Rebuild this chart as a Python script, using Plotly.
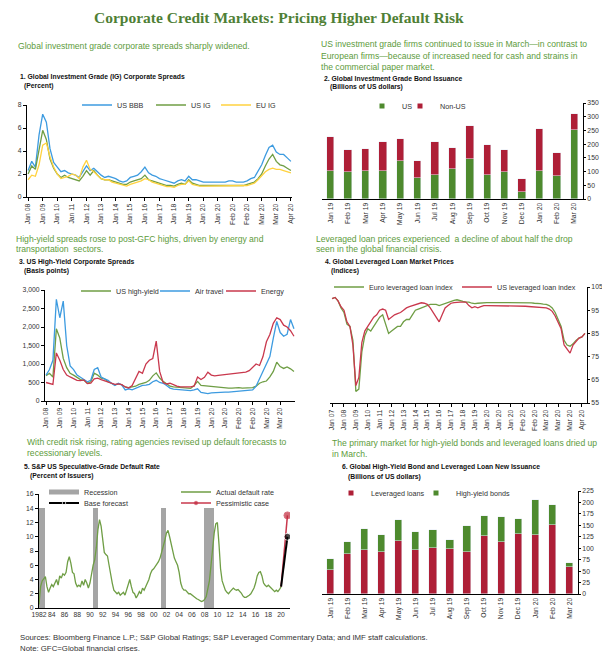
import plotly.graph_objects as go

# the page body has an 8px margin, so the figure is sized to the window minus that offset
W, H = 602, 660
OFF = 8
FONT = "Liberation Sans, Arial, sans-serif"

# ---------------- data ----------------
# 1. Global IG corporate spreads (percent)
ig_ticks = ["Jan 08", "Jan 09", "Jan 10", "Jan 11", "Jan 12", "Jan 13", "Jan 14", "Jan 15",
            "Jan 16", "Jan 17", "Jan 18", "Jan 19", "Jan 20", "Jan 20", "Feb 20", "Feb 20",
            "Mar 20", "Mar 20", "Apr 20"]
us_bbb = [2.3, 3.1, 2.6, 5.4, 7.2, 6.5, 4.2, 3.0, 2.6, 2.2,
          2.3, 2.1, 2.0, 1.9, 1.7, 2.2, 2.7, 2.3, 2.5, 2.2,
          1.9, 1.7, 1.8, 1.7, 1.6, 1.4, 1.3, 1.4, 1.7, 1.8,
          1.9, 2.2, 2.6, 2.1, 1.9, 1.8, 1.6, 1.5, 1.4, 1.3,
          1.2, 1.4, 1.5, 1.4, 1.8, 1.5, 1.5, 1.4, 1.3, 1.3,
          1.3, 1.3, 1.3, 1.3, 1.3, 1.4, 1.4, 1.3, 1.3, 1.3,
          1.4, 1.6, 1.7, 2.2, 2.8, 3.6, 4.3, 4.5, 3.9, 3.7,
          3.7, 3.4, 3.1]
us_ig = [2.0, 2.7, 2.4, 4.2, 5.8, 5.0, 3.3, 2.5, 2.0, 1.7,
         1.9, 1.7, 1.6, 1.5, 1.4, 1.8, 2.3, 1.9, 2.3, 1.9,
         1.6, 1.5, 1.5, 1.4, 1.3, 1.2, 1.1, 1.1, 1.3, 1.4,
         1.5, 1.6, 1.9, 1.5, 1.4, 1.3, 1.2, 1.1, 1.0, 1.0,
         0.95, 1.1, 1.2, 1.1, 1.5, 1.2, 1.1, 1.0, 1.0, 1.0,
         1.0, 1.0, 1.0, 1.0, 1.0, 1.05, 1.05, 1.0, 1.0, 1.0,
         1.1, 1.2, 1.3, 1.6, 2.0, 2.7, 3.3, 3.7, 3.1, 2.8,
         2.7, 2.5, 2.3]
eu_ig = [1.5, 1.9, 1.8, 2.8, 4.5, 4.7, 3.5, 2.6, 2.0, 1.6,
         1.7, 1.8, 2.0, 1.9, 1.6, 2.6, 3.2, 2.4, 2.2, 1.9,
         1.6, 1.5, 1.5, 1.3, 1.2, 1.1, 1.0, 0.95, 1.1, 1.2,
         1.3, 1.4, 1.6, 1.5, 1.3, 1.2, 1.1, 1.0, 0.9, 0.9,
         0.85, 1.0, 1.1, 1.1, 1.4, 1.1, 1.0, 0.95, 0.95, 0.95,
         0.95, 0.95, 0.95, 0.95, 0.95, 0.95, 0.95, 0.95, 0.95, 0.95,
         1.0, 1.1, 1.2, 1.5, 1.9, 2.2, 2.4, 2.5, 2.4, 2.4,
         2.3, 2.2, 2.1]

# 2. Global IG bond issuance (billions of US dollars)
months = ["Jan 19", "Feb 19", "Mar 19", "Apr 19", "May 19", "Jun 19", "Jul 19", "Aug 19",
          "Sep 19", "Oct 19", "Nov 19", "Dec 19", "Jan 20", "Feb 20", "Mar 20"]
ig_us = [103, 97, 102, 102, 137, 78, 88, 110, 145, 87, 97, 27, 103, 85, 253]
ig_nonus = [122, 81, 80, 105, 83, 60, 121, 75, 122, 109, 81, 46, 154, 83, 57]

# 3. US high-yield corporate spreads (basis points)
hy_ticks = ["Jan 08", "Jan 09", "Jan 10", "Jan 11", "Jan 12", "Jan 13", "Jan 14", "Jan 15",
            "Jan 16", "Jan 17", "Jan 18", "Jan 19", "Jan 20", "Jan 20", "Feb 20", "Feb 20",
            "Mar 20", "Mar 20"]
hy_us = [680, 750, 650, 1950, 1700, 1150, 900, 750, 700, 650,
         580, 560, 480, 520, 750, 700, 620, 600, 520, 480,
         430, 470, 440, 380, 360, 380, 400, 450, 480, 500,
         560, 680, 760, 620, 530, 460, 400, 380, 370, 360,
         340, 330, 340, 420, 530, 420, 410, 400, 380, 370,
         360, 360, 360, 350, 350, 360, 360, 350, 350, 350,
         360, 400, 480, 520, 540, 650, 800, 1050, 930, 880,
         920, 870, 800]
hy_air = [700, 850, 1100, 2750, 2250, 2700, 1500, 950, 850, 700,
          640, 580, 520, 560, 850, 900, 650, 600, 560, 480,
          420, 480, 430, 300, 330, 300, 340, 380, 420, 430,
          450, 520, 560, 500, 480, 420, 350, 320, 310, 290,
          280, 270, 280, 300, 330, 230, 220, 200, 220, 230,
          230, 230, 240, 240, 250, 260, 260, 270, 280, 280,
          300, 400, 600, 800, 1000, 1200, 1700, 2150, 1850, 1750,
          1800, 2200, 1950]
hy_energy = [500, 480, 450, 1300, 1100, 850, 700, 650, 600, 560,
             550, 570, 470, 480, 600, 620, 580, 550, 520, 480,
             450, 460, 440, 380, 350, 420, 600, 800, 750, 1000,
             1100, 1150, 1620, 800, 500, 460, 480, 430, 400, 380,
             370, 380, 380, 400, 650, 580, 640, 780, 700, 680,
             690, 700, 710, 720, 740, 750, 750, 760, 780, 820,
             900, 1000, 960, 1200, 1600, 1800, 2100, 2250, 2200, 2050,
             2000, 1900, 1750]

# 4. Global leveraged loan market prices (indices)
ll_ticks = ["Jan 07", "Jan 08", "Jan 09", "Jan 10", "Jan 11", "Jan 12", "Jan 13", "Jan 14",
            "Jan 15", "Jan 16", "Jan 17", "Jan 18", "Jan 19", "Jan 20", "Jan 20", "Jan 20",
            "Feb 20", "Feb 20", "Mar 20", "Mar 20", "Mar 20", "Apr 20"]
euro_ll = [100, 100.5, 99, 96, 94, 89, 88, 82, 60, 61,
           77, 84, 87, 86, 88, 90, 92, 93, 89, 85,
           86, 87, 88, 88, 90, 91, 91, 93, 95, 95.5,
           96, 96.5, 97, 97.5, 97.5, 97.5, 97, 97.5, 98, 98.5,
           99, 99.2, 99.5, 99, 98.8, 98.5, 98.5, 98, 97.8, 98,
           98.2, 98.2, 98.3, 98.3, 98.3, 98.4, 98.4, 98.4, 98.4, 98.4,
           98.4, 98.4, 98.3, 98.3, 98.3, 98.3, 98.2, 98.2, 98, 98,
           97.8, 97.6, 97.5, 97, 96, 94, 91, 88, 82, 80,
           79.5, 80.5, 82, 83, 83.5, 85]
us_ll = [100, 100.5, 99, 96.5, 95, 90, 88, 80, 62.5, 66,
         81, 86, 88, 90, 92, 93, 95, 95.5, 95, 91,
         92, 93, 93.5, 94, 95, 96, 96.5, 97, 97.5, 98,
         98.2, 98, 97.5, 96, 94, 92, 90, 93, 96, 97,
         98, 98.3, 98.5, 98.5, 98.5, 98.5, 97, 96, 96.5, 96,
         96.5, 97, 97, 97, 97, 97, 97, 97, 97, 96.9,
         96.9, 96.8, 96.8, 96.8, 96.7, 96.7, 96.6, 96.5, 96.5, 96.4,
         96.3, 96.2, 96, 95.5, 94.5, 92.5, 90, 87, 80, 78.5,
         76.5, 80, 81.5, 83, 83.5, 85]

# 5. S&P US speculative-grade default rate (percent of issuers), quarterly from 1982
default_start = 1982
default_rate = [0.5, 3.0, 3.8, 4.2, 4.4, 3.0, 2.2, 2.8, 3.3, 3.0, 3.5, 4.0,
                3.2, 4.5, 4.2, 4.8, 4.6, 5.0, 6.5, 7.2, 6.3, 5.0, 4.8, 3.5,
                3.0, 3.2, 3.0, 3.8, 3.2, 4.0, 3.5, 2.8, 3.5, 5.0, 6.0, 6.8,
                8.5, 11.0, 12.4, 11.5, 9.5, 7.8, 7.5, 7.3, 6.0, 4.5, 3.5, 2.5,
                2.2, 2.0, 2.2, 1.8, 2.0, 2.2, 1.8, 2.5, 3.2, 4.0, 3.0, 2.2,
                2.0, 1.4, 1.8, 2.3, 2.0, 2.8, 2.5, 3.0, 3.5, 4.0, 4.8, 5.3,
                5.5, 5.8, 6.2, 6.5, 7.0, 7.8, 8.5, 9.5, 10.5, 10.9, 10.0, 9.0,
                8.0, 7.0, 6.5, 6.0, 5.0, 3.5, 2.8, 2.5, 2.5, 2.3, 2.0, 2.0,
                1.8, 1.7, 1.5, 1.3, 1.2, 1.0, 0.9, 1.0, 1.2, 1.6, 2.5, 3.8,
                6.0, 8.5, 10.5, 11.8, 12.0, 9.0, 5.5, 3.8, 3.0, 2.5, 2.2, 2.0,
                2.3, 2.6, 2.8, 2.6, 2.5, 2.6, 2.4, 2.1, 1.7, 1.5, 1.5, 1.6,
                1.8, 2.0, 2.4, 2.8, 3.5, 4.5, 5.0, 5.1, 4.5, 3.5, 3.2, 3.0,
                3.2, 3.0, 2.8, 2.5, 2.3, 2.5, 2.3, 2.6, 3.0]
forecast_years = [2020.0, 2021.0]
base_forecast = [3.0, 10.0]
pessimistic_case = [3.0, 13.0]
recession_start = [1981.5, 1990.5, 2001.17, 2007.92]
recession_end = [1982.92, 1991.25, 2001.92, 2009.5]
recession_top = 14
year_ticks = list(range(1982, 2021, 2))
year_labels = ["1982"] + [str(y)[2:] for y in year_ticks[1:]]

# 6. Global HY bond and leveraged loan new issuance (billions of US dollars)
lev_loans = [53, 87, 96, 92, 116, 96, 101, 98, 92, 127, 113, 131, 129, 150, 60]
hy_bonds = [23, 27, 47, 36, 45, 40, 39, 20, 56, 44, 55, 33, 76, 45, 7]

# ---------------- styling ----------------
BLUE = "#3d9be0"
GREEN = "#6f9e45"
YELLOW = "#ffd23f"
RED = "#c9384d"
BAR_GREEN = "#4e8a2e"
BAR_RED = "#ae1f37"
GRAY = "#a5a5a5"
TXT_GREEN = "#5d9b3c"
TITLE_GREEN = "#4f7f36"
BLK = "#111"


# positions below are window pixels; convert to paper fractions
def px_x(x):
    return (x - OFF) / W


def px_y(y):
    return 1 - (y - OFF) / H


fig = go.Figure()


def line(x, y, name, color, ax, leg, width=1.3):
    fig.add_trace(go.Scatter(x=x, y=y, name=name, mode="lines",
                             line=dict(color=color, width=width),
                             xaxis="x" + ax, yaxis="y" + ax, legend=leg))


def legend_square(name, color, ax, leg):
    fig.add_trace(go.Scatter(x=[None], y=[None], name=name, mode="markers",
                             marker=dict(symbol="square", size=5, color=color),
                             xaxis="x" + ax, yaxis="y" + ax, legend=leg, legendgroup=name))


# panel 1
idx1 = list(range(len(us_bbb)))
line(idx1, us_bbb, "US BBB", BLUE, "", "legend")
line(idx1, us_ig, "US IG", GREEN, "", "legend2")
line(idx1, eu_ig, "EU IG", YELLOW, "", "legend3")

# panel 2
fig.add_trace(go.Bar(x=months, y=ig_us, name="US", marker_color=BAR_GREEN, width=0.42,
                     xaxis="x2", yaxis="y2", showlegend=False, legendgroup="US"))
fig.add_trace(go.Bar(x=months, y=ig_nonus, name="Non-US", marker_color=BAR_RED, width=0.42,
                     xaxis="x2", yaxis="y2", showlegend=False, legendgroup="Non-US"))
legend_square("US", BAR_GREEN, "2", "legend4")
legend_square("Non-US", BAR_RED, "2", "legend5")

# panel 3
idx3 = list(range(len(hy_us)))
line(idx3, hy_us, "US high-yield", GREEN, "3", "legend6")
line(idx3, hy_air, "Air travel", BLUE, "3", "legend7")
line(idx3, hy_energy, "Energy", RED, "3", "legend8")

# panel 4
idx4 = list(range(len(euro_ll)))
line(idx4, euro_ll, "Euro leveraged loan index", GREEN, "4", "legend9")
line(idx4, us_ll, "US leveraged loan index", RED, "4", "legend10")

# panel 5
rec_mid = [(s + e) / 2 for s, e in zip(recession_start, recession_end)]
rec_w = [e - s for s, e in zip(recession_start, recession_end)]
fig.add_trace(go.Bar(x=rec_mid, y=[recession_top] * len(rec_mid), width=rec_w,
                     marker_color=GRAY, marker_line_width=0, xaxis="x5", yaxis="y5",
                     showlegend=False, name="Recession", legendgroup="rec"))
fig.add_trace(go.Scatter(x=[None], y=[None], mode="lines", name="Recession",
                         line=dict(color=GRAY, width=5), xaxis="x5", yaxis="y5",
                         legend="legend11", legendgroup="rec"))
years = [default_start + 0.25 * i for i in range(len(default_rate))]
line(years, default_rate, "Actual default rate", GREEN, "5", "legend13")
fig.add_trace(go.Scatter(x=forecast_years, y=pessimistic_case, name="Pessimistic case",
                         mode="lines+markers", line=dict(color=RED, width=1.5),
                         marker=dict(size=[0, 7], color="#c0283a"),
                         xaxis="x5", yaxis="y5", legend="legend14"))
fig.add_trace(go.Scatter(x=forecast_years, y=base_forecast, name="Base forecast",
                         mode="lines+markers", line=dict(color="black", width=2),
                         marker=dict(size=[0, 7], color="black"),
                         xaxis="x5", yaxis="y5", legend="legend12"))

# panel 6
fig.add_trace(go.Bar(x=months, y=lev_loans, name="Leveraged loans", marker_color=BAR_RED,
                     width=0.42, xaxis="x6", yaxis="y6", showlegend=False,
                     legendgroup="Leveraged loans"))
fig.add_trace(go.Bar(x=months, y=hy_bonds, name="High-yield bonds", marker_color=BAR_GREEN,
                     width=0.42, xaxis="x6", yaxis="y6", showlegend=False,
                     legendgroup="High-yield bonds"))
legend_square("Leveraged loans", BAR_RED, "6", "legend15")
legend_square("High-yield bonds", BAR_GREEN, "6", "legend16")

# ---------------- axes ----------------
tick_font = dict(size=6.8, color="#333", family=FONT)
base_ax = dict(showgrid=False, zeroline=False, showline=True, linecolor="black",
               linewidth=1, tickfont=tick_font, ticks="outside", ticklen=3,
               tickcolor="black", fixedrange=True)


def xax(x0, x1, anchor, **kw):
    d = dict(base_ax, domain=[px_x(x0), px_x(x1)], anchor=anchor)
    d.update(kw)
    return d


def yax(top, bottom, anchor, **kw):
    d = dict(base_ax, domain=[px_y(bottom), px_y(top)], anchor=anchor)
    d.update(kw)
    return d


layout_axes = dict(
    xaxis=xax(27, 292, "y", range=[-0.3, 72.3], tickmode="array",
              tickvals=list(range(0, 73, 4)), ticktext=ig_ticks, tickangle=-90),
    yaxis=yax(105, 197, "x", range=[0, 8], dtick=2),
    xaxis2=xax(322, 583, "y2", type="category", range=[-0.5, 14.5], tickangle=-90, ticks=""),
    yaxis2=yax(103, 199, "x2", side="right", range=[0, 350], dtick=50, ticklen=2),
    xaxis3=xax(45, 295, "y3", range=[-0.3, 72.3], tickmode="array",
               tickvals=list(range(0, 69, 4)), ticktext=hy_ticks, tickangle=-90),
    yaxis3=yax(290, 401, "x3", range=[0, 3000], dtick=500, tickformat=","),
    xaxis4=xax(330, 587, "y4", range=[-0.7, 85.7], tickmode="array",
               tickvals=list(range(0, 85, 4)), ticktext=ll_ticks, tickangle=-90),
    yaxis4=yax(287, 403, "x4", side="right", range=[55, 105], tickmode="array",
               tickvals=[55, 65, 75, 85, 95, 105], ticklen=2),
    xaxis5=xax(39, 290, "y5", range=[1982, 2021.4], tickmode="array",
               tickvals=year_ticks, ticktext=year_labels, tickangle=0, ticks=""),
    yaxis5=yax(494, 608, "x5", range=[0, 16], dtick=2),
    xaxis6=xax(322, 578, "y6", type="category", range=[-0.5, 14.5], tickangle=-90, ticks=""),
    yaxis6=yax(491, 594, "x6", side="right", range=[0, 225], dtick=25, ticklen=2),
)


# ---------------- legends (one entry each, placed by hand) ----------------
def leg(x, y):
    return dict(x=px_x(x), y=px_y(y), xref="paper", yref="paper", xanchor="left",
                yanchor="middle", orientation="h", bgcolor="rgba(0,0,0,0)", borderwidth=0,
                itemwidth=30, font=dict(size=7.2, color="#333", family=FONT))


legends = dict(
    legend=leg(77, 105), legend2=leg(151, 105), legend3=leg(216, 105),
    legend4=leg(362, 106), legend5=leg(400, 106),
    legend6=leg(76, 291), legend7=leg(155, 291), legend8=leg(221, 291),
    legend9=leg(329, 287), legend10=leg(457, 287),
    legend11=leg(44, 492), legend12=leg(44, 503), legend13=leg(176, 492), legend14=leg(176, 503),
    legend15=leg(331, 493), legend16=leg(416, 493),
)


# ---------------- text ----------------
def note(x, y, text, size=8.6, color=TXT_GREEN, bold=False, family=FONT):
    if bold:
        text = "<b>" + text + "</b>"
    return dict(x=px_x(x), y=px_y(y), xref="paper", yref="paper", xanchor="left",
                yanchor="middle", text=text, showarrow=False,
                font=dict(size=size, color=color, family=family))


annotations = [
    dict(x=px_x(279), y=px_y(17), xref="paper", yref="paper", xanchor="center",
         yanchor="middle", showarrow=False,
         text="<b>Corporate Credit Markets: Pricing Higher Default Risk</b>",
         font=dict(size=15.5, color=TITLE_GREEN, family="Liberation Serif, Times New Roman, serif")),
    note(16, 46, "Global investment grade corporate spreads sharply widened."),
    note(319, 44, "US investment grade firms continued to issue in March\u2014in contrast to"),
    note(319, 56, "European firms\u2014because of increased need for cash and strains in"),
    note(319, 67, "the commercial paper market."),
    note(18, 77, "1. Global Investment Grade (IG) Corporate Spreads", 6.8, BLK, True),
    note(22, 86, "(Percent)", 6.8, BLK, True),
    note(322, 78, "2. Global Investment Grade Bond Issuance", 6.8, BLK, True),
    note(328, 87, "(Billions of US dollars)", 6.8, BLK, True),
    note(14, 239, "High-yield spreads rose to post-GFC highs, driven by energy and"),
    note(14, 249, "transportation  sectors."),
    note(17, 262, "3. US High-Yield Corporate Spreads", 6.8, BLK, True),
    note(22, 271, "(Basis points)", 6.8, BLK, True),
    note(314, 239, "Leveraged loan prices experienced  a decline of about half the drop"),
    note(314, 249, "seen in the global financial crisis."),
    note(323, 262, "4. Global Leveraged Loan Market Prices", 6.8, BLK, True),
    note(329, 271, "(Indices)", 6.8, BLK, True),
    note(25, 442, "With credit risk rising, rating agencies revised up default forecasts to"),
    note(25, 453, "recessionary levels."),
    note(22, 467, "5. S&P US Speculative-Grade Default Rate", 6.8, BLK, True),
    note(28, 476, "(Percent of Issuers)", 6.8, BLK, True),
    note(330, 443, "The primary market for high-yield bonds and leveraged loans dried up"),
    note(330, 454, "in March."),
    note(340, 467, "6. Global High-Yield Bond and Leveraged Loan New Issuance", 6.8, BLK, True),
    note(346, 477, "(Billions of US dollars)", 6.8, BLK, True),
    note(18, 637, "Sources: Bloomberg Finance L.P.; S&P Global Ratings; S&P Leveraged Commentary Data; and IMF staff calculations.", 7.8, "#333"),
    note(18, 648, "Note: GFC=Global financial crises.", 7.8, "#333"),
]

shapes = [
    dict(type="line", xref="paper", yref="paper", x0=px_x(5), x1=px_x(5), y0=px_y(3), y1=0,
         line=dict(color="#6b6b6b", width=3)),
    dict(type="line", xref="paper", yref="paper", x0=px_x(5), x1=px_x(606), y0=px_y(4), y1=px_y(4),
         line=dict(color="#8a8a8a", width=2)),
]

fig.update_layout(
    width=W, height=H, margin=dict(l=0, r=0, t=0, b=0, autoexpand=False),
    paper_bgcolor="white", plot_bgcolor="white", barmode="stack", bargap=0,
    font=dict(family=FONT, size=7, color="#333"),
    annotations=annotations, shapes=shapes, **layout_axes, **legends,
)

fig.write_html("out.html")
